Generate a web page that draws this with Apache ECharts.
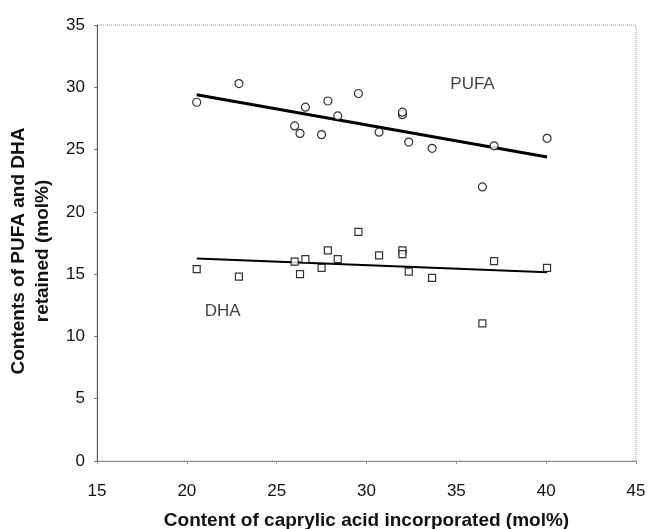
<!DOCTYPE html>
<html>
<head>
<meta charset="utf-8">
<script src="https://cdn.jsdelivr.net/npm/echarts@6/dist/echarts.min.js"></script>
<style>
  html, body { margin: 0; padding: 0; background: #fff; }
  #chart { width: 649px; height: 529px; }
</style>
</head>
<body>
<div id="chart"></div>
<script>
// values
const caprylic = [20.55, 22.9, 26.0, 26.3, 26.6, 27.5, 27.85, 28.4, 29.55, 30.7, 32.0, 32.0, 32.35, 33.65, 36.45, 37.1, 40.05]
const pufa = [28.8, 30.3, 26.9, 26.3, 28.4, 26.2, 28.9, 27.7, 29.5, 26.4, 27.8, 28.0, 25.6, 25.1, 22.0, 25.3, 25.9]
const dha = [15.4, 14.8, 16.0, 15.0, 16.2, 15.5, 16.9, 16.2, 18.4, 16.5, 16.9, 16.6, 15.2, 14.7, 11.05, 16.05, 15.5]

const trendX = [20.55, 40.05]
const pufaTrend = [29.4, 24.4]
const dhaTrend = [16.25, 15.15]

const labelNames = ['PUFA', 'DHA']
const labelX = [35.9, 22.0]
const labelY = [30.25, 12.0]

const xTicks = [15, 20, 25, 30, 35, 40, 45]
const yTicks = [0, 5, 10, 15, 20, 25, 30, 35]

const zip = (xs, ys) => xs.map((x, i) => [x, ys[i]])

const FONT = 'Liberation Sans'
const chart = echarts.init(document.getElementById('chart'))

const option = {
  animation: false,
  grid: {
    left: 97, right: 13, top: 25, bottom: 68,
    outerBoundsMode: 'none',
    containLabel: false,
    show: true,
    borderColor: '#999',
    borderWidth: 1,
    borderType: 'dotted'
  },
  xAxis: {
    type: 'value',
    min: xTicks[0],
    max: xTicks[xTicks.length - 1],
    interval: 5,
    name: 'Content of caprylic acid incorporated (mol%)',
    nameLocation: 'middle',
    nameGap: 50,
    nameTextStyle: { fontFamily: FONT, fontSize: 19, fontWeight: 'bold', color: '#111' },
    axisLine: { lineStyle: { color: '#888', width: 1 } },
    axisTick: { show: true, length: 3, lineStyle: { color: '#999' } },
    axisLabel: { margin: 22, fontFamily: FONT, fontSize: 17, color: '#111' },
    splitLine: { show: false }
  },
  yAxis: {
    type: 'value',
    min: yTicks[0],
    max: yTicks[yTicks.length - 1],
    interval: 5,
    name: 'Contents of PUFA and DHA\nretained (mol%)',
    nameLocation: 'middle',
    nameGap: 33,
    nameTextStyle: {
      fontFamily: FONT, fontSize: 19, fontWeight: 'bold', color: '#111', lineHeight: 24,
      padding: [0, 16, 0, 0]
    },
    axisLine: { lineStyle: { color: '#555', width: 1 } },
    axisTick: { show: true, length: 3, lineStyle: { color: '#777' } },
    axisLabel: { margin: 12, fontFamily: FONT, fontSize: 17, color: '#111' },
    splitLine: { show: false }
  },
  series: [
    {
      name: 'PUFA trend',
      type: 'line',
      data: zip(trendX, pufaTrend),
      symbol: 'none',
      lineStyle: { color: '#000', width: 3 },
      z: 2
    },
    {
      name: 'DHA trend',
      type: 'line',
      data: zip(trendX, dhaTrend),
      symbol: 'none',
      lineStyle: { color: '#000', width: 2 },
      z: 2
    },
    {
      name: 'PUFA',
      type: 'scatter',
      data: zip(caprylic, pufa),
      symbol: 'circle',
      symbolSize: 8,
      itemStyle: { color: '#fff', borderColor: '#000', borderWidth: 1.2 },
      z: 3
    },
    {
      name: 'DHA',
      type: 'scatter',
      data: zip(caprylic, dha),
      symbol: 'rect',
      symbolSize: 7,
      itemStyle: { color: '#fff', borderColor: '#000', borderWidth: 1.2 },
      z: 3
    },
    {
      name: 'labels',
      type: 'scatter',
      data: labelNames.map((n, i) => ({ name: n, value: [labelX[i], labelY[i]] })),
      symbolSize: 0,
      silent: true,
      label: {
        show: true,
        position: 'inside',
        formatter: p => p.name,
        fontFamily: FONT,
        fontSize: 17,
        color: '#111'
      }
    }
  ]
}

chart.setOption(option)
</script>
</body>
</html>
